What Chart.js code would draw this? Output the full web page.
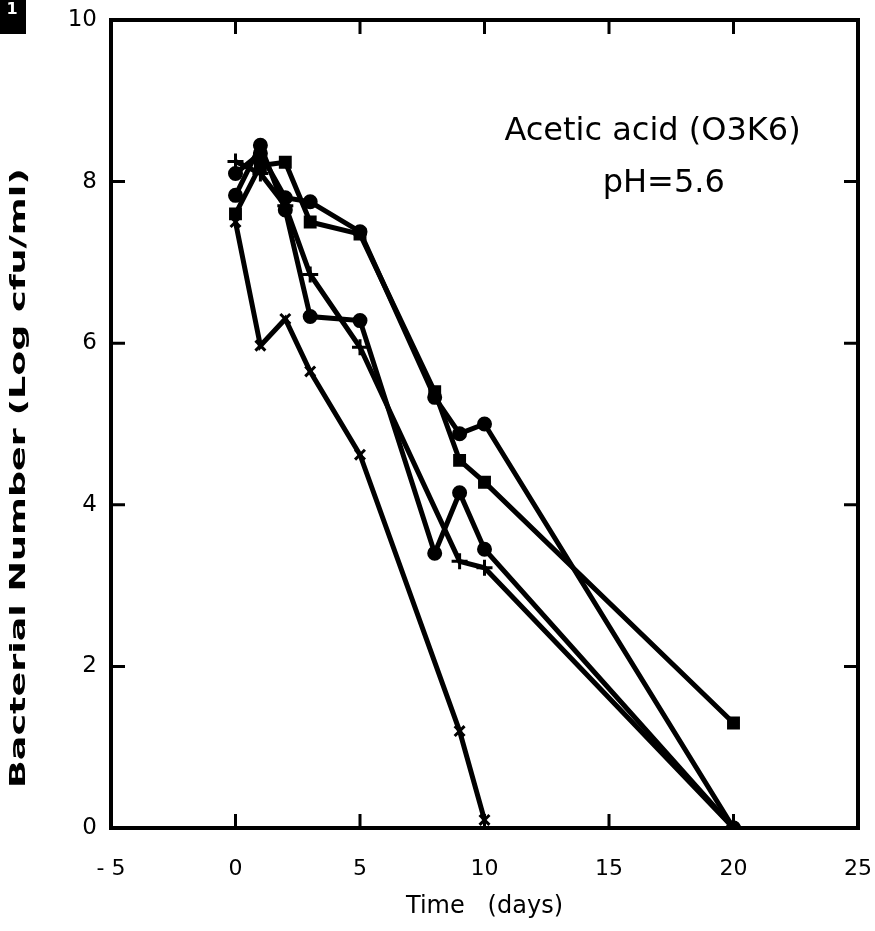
<!DOCTYPE html>
<html>
<head>
<meta charset="utf-8">
<script src="https://cdn.jsdelivr.net/npm/chart.js@4.4.1/dist/chart.umd.min.js"></script>
<style>
  html, body { margin: 0; padding: 0; background: #fff; }
  #wrap { width: 875px; height: 931px; }
</style>
</head>
<body>
<div id="wrap"><canvas id="survivalChart" width="875" height="931"></canvas></div>
<script>
// values (days, log cfu/ml)
const xTicks = [-5, 0, 5, 10, 15, 20, 25];
const yTicks = [0, 2, 4, 6, 8, 10];

const daysA = [0, 1, 2, 3, 5, 9, 10];
const logA  = [7.5, 5.97, 6.3, 5.65, 4.62, 1.2, 0.1];

const daysB = [0, 1, 2, 3, 5, 8, 9, 10, 20];
const logB  = [7.83, 8.45, 7.65, 6.33, 6.28, 3.4, 4.15, 3.45, 0];

const daysC = [0, 1, 2, 3, 5, 8, 9, 10, 20];
const logC  = [7.6, 8.2, 8.24, 7.5, 7.35, 5.4, 4.55, 4.28, 1.3];

const daysD = [0, 1, 2, 3, 5, 8, 9, 10, 20];
const logD  = [8.1, 8.35, 7.8, 7.75, 7.38, 5.33, 4.88, 5.0, 0];

const daysE = [0, 1, 2, 3, 5, 9, 10, 20];
const logE  = [8.25, 8.1, 7.7, 6.85, 5.95, 3.3, 3.22, 0];

const FONT = "'DejaVu Sans', Verdana, sans-serif";

function pts(xs, ys) {
    return xs.map((x, i) => ({ x: x, y: ys[i] }));
}

function series(label, xs, ys, style, r) {
    return {
        label: label,
        data: pts(xs, ys),
        showLine: true,
        borderColor: "#000",
        backgroundColor: "#000",
        borderWidth: 5,
        pointStyle: style,
        pointRadius: r,
        pointBorderWidth: 3,
        pointBackgroundColor: "#000",
        pointBorderColor: "#000",
        tension: 0
    };
}

// frame, inward ticks, annotation, y title
const framePlugin = {
    id: "frame",
    afterDraw(chart) {
        const ctx = chart.ctx;
        const a = chart.chartArea;
        const xs = chart.scales.x, ys = chart.scales.y;
        ctx.save();
        ctx.strokeStyle = "#000";
        ctx.lineWidth = 4;
        ctx.strokeRect(a.left, a.top, a.right - a.left, a.bottom - a.top);
        ctx.lineWidth = 3;
        ctx.beginPath();
        xTicks.forEach(v => {
            const px = xs.getPixelForValue(v);
            if (px <= a.left + 2 || px >= a.right - 2) return;
            ctx.moveTo(px, a.bottom); ctx.lineTo(px, a.bottom - 14);
            ctx.moveTo(px, a.top); ctx.lineTo(px, a.top + 14);
        });
        yTicks.forEach(v => {
            const py = ys.getPixelForValue(v);
            if (py <= a.top + 2 || py >= a.bottom - 2) return;
            ctx.moveTo(a.left, py); ctx.lineTo(a.left + 14, py);
            ctx.moveTo(a.right, py); ctx.lineTo(a.right - 14, py);
        });
        ctx.stroke();

        ctx.fillStyle = "#000";
        ctx.font = "32px " + FONT;
        ctx.textAlign = "center";
        ctx.textBaseline = "middle";
        ctx.fillText("Acetic acid (O3K6)", xs.getPixelForValue(16.75), ys.getPixelForValue(8.62));
        ctx.fillText("pH=5.6", xs.getPixelForValue(17.2), ys.getPixelForValue(7.98));

        // y axis title, stretched along the axis as in the original
        ctx.save();
        ctx.translate(20, 478);
        ctx.rotate(-Math.PI / 2);
        ctx.font = "bold 21px " + FONT;
        const w = ctx.measureText("Bacterial Number (Log cfu/ml)").width;
        ctx.scale(620 / w, 1);
        ctx.fillText("Bacterial Number (Log cfu/ml)", 0, 0);
        ctx.restore();

        // cut-off panel label in the corner
        ctx.fillRect(0, 0, 26, 34);
        ctx.fillStyle = "#fff";
        ctx.font = "bold 16px " + FONT;
        ctx.fillText("1", 12, 10);
        ctx.restore();
    }
};

function createChart() {
    const ctx = document.getElementById("survivalChart").getContext("2d");
    new Chart(ctx, {
        type: "scatter",
        data: {
            datasets: [
                series("A", daysA, logA, "crossRot", 7),
                series("B", daysB, logB, "circle", 6),
                series("C", daysC, logC, "rect", 7),
                series("D", daysD, logD, "circle", 6),
                series("E", daysE, logE, "cross", 8)
            ]
        },
        options: {
            responsive: false,
            animation: false,
            layout: { padding: { left: 0, right: 17, top: 20, bottom: 0 } },
            plugins: { legend: { display: false }, tooltip: { enabled: false } },
            scales: {
                x: {
                    type: "linear",
                    min: -5, max: 25,
                    afterBuildTicks: s => { s.ticks = xTicks.map(v => ({ value: v })); },
                    afterFit: s => { s.height = 103; s.paddingLeft = 0; s.paddingRight = 0; },
                    grid: { display: false, drawTicks: false },
                    border: { display: false },
                    ticks: {
                        color: "#000",
                        font: { family: FONT, size: 22 },
                        padding: 28,
                        callback: v => (v < 0 ? "- " + Math.abs(v) : String(v))
                    },
                    title: {
                        display: true,
                        text: "Time   (days)",
                        color: "#000",
                        font: { family: FONT, size: 24 },
                        padding: { top: 2, bottom: 10 }
                    }
                },
                y: {
                    type: "linear",
                    min: 0, max: 10,
                    afterBuildTicks: s => { s.ticks = yTicks.map(v => ({ value: v })); },
                    afterFit: s => { s.width = 111; s.paddingTop = 0; s.paddingBottom = 0; },
                    grid: { display: false, drawTicks: false },
                    border: { display: false },
                    ticks: {
                        color: "#000",
                        font: { family: FONT, size: 23 },
                        padding: 14
                    }
                }
            }
        },
        plugins: [framePlugin]
    });
}

window.onload = createChart;
</script>
</body>
</html>
